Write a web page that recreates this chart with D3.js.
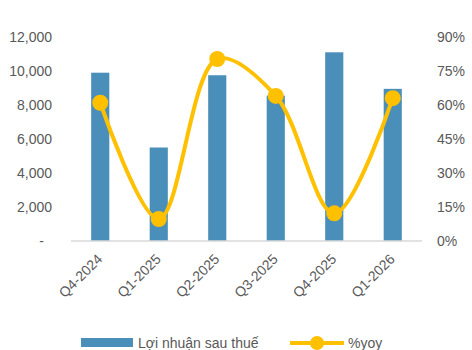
<!DOCTYPE html>
<html>
<head>
<meta charset="utf-8">
<script src="https://cdn.jsdelivr.net/npm/d3@7"></script>
<style>
  body { margin: 0; background: #fff; }
  svg { display: block; font-family: "Liberation Sans", Arial, sans-serif; }
</style>
</head>
<body>
<svg id="chart" width="472" height="350"></svg>
<script>
const quarters = ['Q4-2024', 'Q1-2025', 'Q2-2025', 'Q3-2025', 'Q4-2025', 'Q1-2026'];
const profit = [9900, 5500, 9750, 8550, 11100, 8950];
const yoy = [61, 9.7, 80.3, 64, 12.2, 63];
const leftTicks = [0, 2000, 4000, 6000, 8000, 10000, 12000];
const rightTicks = [0, 15, 30, 45, 60, 75, 90];

const svg = d3.select('#chart');
const plotLeft = 71, plotRight = 422, plotTop = 37, plotBottom = 241;

let x = d3.scaleBand()
    .domain(quarters)
    .range([plotLeft, plotRight])
    .paddingInner(0.69)
    .paddingOuter(0.345);

let yL = d3.scaleLinear().domain([0, 12000]).range([plotBottom, plotTop]);
let yR = d3.scaleLinear().domain([0, 90]).range([plotBottom, plotTop]);

// bars
svg.append('g').selectAll('rect')
    .data(profit)
    .join('rect')
    .attr('x', (d, i) => x(quarters[i]))
    .attr('y', d => yL(d))
    .attr('width', x.bandwidth())
    .attr('height', d => plotBottom - yL(d))
    .attr('fill', '#4a8eba');

// baseline
svg.append('line')
    .attr('x1', plotLeft).attr('x2', plotRight)
    .attr('y1', plotBottom).attr('y2', plotBottom)
    .attr('stroke', '#d9d9d9').attr('stroke-width', 1.5);

// left axis
let fmt = d3.format(',');
let leftAxis = svg.append('g')
    .attr('transform', `translate(${plotLeft - 19},0)`)
    .call(d3.axisLeft(yL).tickValues(leftTicks).tickSize(0).tickPadding(0)
        .tickFormat(d => d === 0 ? '-' : fmt(d)));
leftAxis.select('.domain').remove();
leftAxis.selectAll('text').attr('fill', '#595959').attr('font-size', 14)
    .attr('font-family', '"Liberation Sans", Arial, sans-serif')
    .attr('dx', d => d === 0 ? -8 : 0);

// right axis
let rightAxis = svg.append('g')
    .attr('transform', `translate(${plotRight + 15},0)`)
    .call(d3.axisRight(yR).tickValues(rightTicks).tickSize(0).tickPadding(0)
        .tickFormat(d => d + '%'));
rightAxis.select('.domain').remove();
rightAxis.selectAll('text').attr('fill', '#595959').attr('font-size', 14)
    .attr('font-family', '"Liberation Sans", Arial, sans-serif');

// x labels
svg.append('g').selectAll('text')
    .data(quarters)
    .join('text')
    .attr('transform', d => `translate(${x(d) + x.bandwidth() / 2 + 3},${plotBottom + 19}) rotate(-45)`)
    .attr('text-anchor', 'end')
    .attr('fill', '#595959')
    .attr('font-size', 14)
    .text(d => d);

// yoy line
let line = d3.line()
    .x((d, i) => x(quarters[i]) + x.bandwidth() / 2)
    .y(d => yR(d))
    .curve(d3.curveCatmullRom.alpha(0.5));

svg.append('path')
    .datum(yoy)
    .attr('fill', 'none')
    .attr('stroke', '#ffc000')
    .attr('stroke-width', 4)
    .attr('d', line);

svg.append('g').selectAll('circle')
    .data(yoy)
    .join('circle')
    .attr('cx', (d, i) => x(quarters[i]) + x.bandwidth() / 2)
    .attr('cy', d => yR(d))
    .attr('r', 8)
    .attr('fill', '#ffc000');

// legend
let legend = svg.append('g');
legend.append('rect')
    .attr('x', 81).attr('y', 338).attr('width', 52).attr('height', 9)
    .attr('fill', '#4a8eba');
legend.append('text')
    .attr('x', 138).attr('y', 348)
    .attr('fill', '#595959').attr('font-size', 14)
    .text('Lợi nhuận sau thuế');
legend.append('line')
    .attr('x1', 290).attr('x2', 344).attr('y1', 343).attr('y2', 343)
    .attr('stroke', '#ffc000').attr('stroke-width', 4);
legend.append('circle')
    .attr('cx', 317).attr('cy', 343).attr('r', 7)
    .attr('fill', '#ffc000');
legend.append('text')
    .attr('x', 348).attr('y', 348)
    .attr('fill', '#595959').attr('font-size', 14)
    .text('%yoy');
</script>
</body>
</html>
